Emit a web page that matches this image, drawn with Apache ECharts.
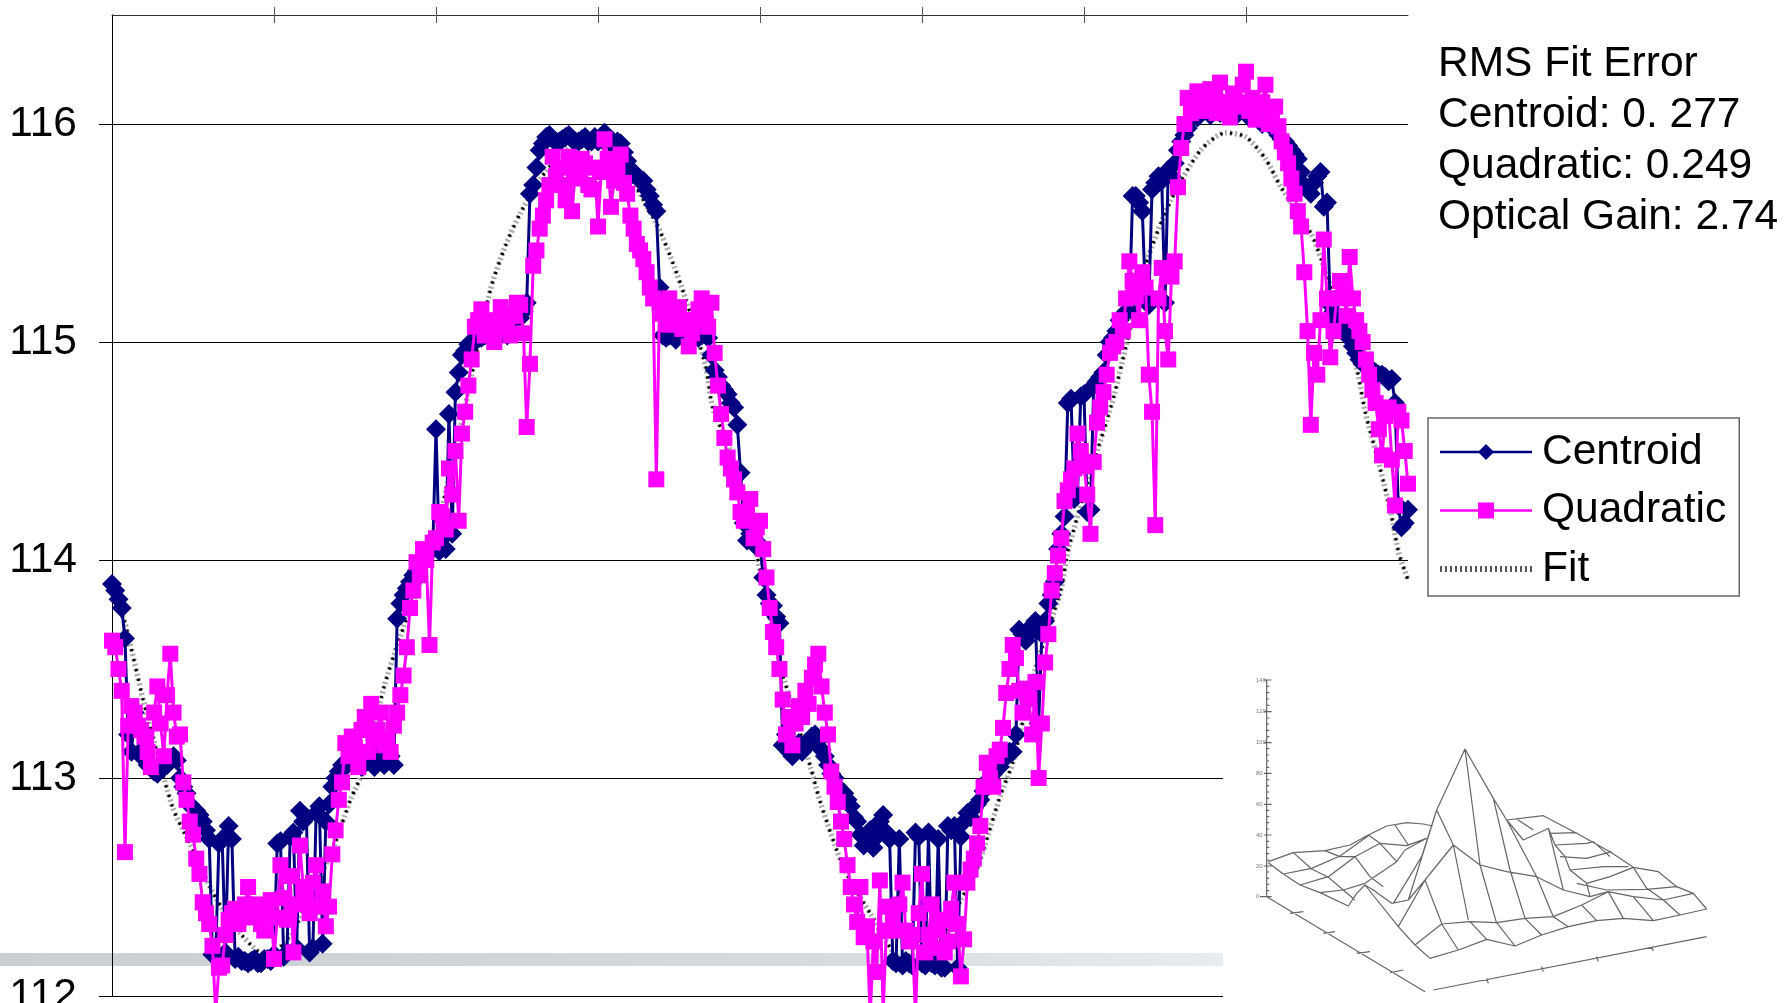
<!DOCTYPE html>
<html><head><meta charset="utf-8">
<style>html,body{margin:0;padding:0;background:#fff;overflow:hidden}#c{width:1785px;height:1003px}</style>
<script src="https://cdn.jsdelivr.net/npm/echarts@6/dist/echarts.min.js"></script>
</head><body><div id="c"></div>
<script>
const yTicks=[112,113,114,115,116];
const xTicks=[50,100,150,200,250,300,350];
const infoLines=["RMS Fit Error","Centroid: 0. 277","Quadratic: 0.249","Optical Gain: 2.74"];
const centroidEven=[113.89,113.82,113.64,113.12,113.25,113.14,113.05,113.02,113.05,113.09,113.08,112.96,112.88,112.85,112.80,112.72,112.18,112.72,112.78,112.17,
112.16,112.15,112.17,112.15,112.17,112.19,112.71,112.20,112.75,112.85,112.82,112.22,112.87,112.80,112.96,113.03,113.05,113.08,113.07,113.10,
113.09,113.14,113.06,113.10,113.73,113.84,113.90,113.95,114.02,114.04,114.60,114.10,114.67,114.77,114.94,114.99,115.00,115.02,115.05,115.04,
115.06,115.03,115.08,115.11,115.18,115.72,115.88,115.94,115.93,115.92,115.94,115.93,115.92,115.94,115.92,115.92,115.96,115.93,115.92,115.87,
115.79,115.76,115.74,115.67,115.60,115.03,115.03,115.01,115.06,115.08,115.04,115.03,115.02,114.87,114.80,114.76,114.70,114.40,114.09,114.08,
114.07,113.84,113.79,113.71,113.20,113.10,113.16,113.14,113.19,113.17,113.10,113.02,112.96,112.93,112.87,112.80,112.69,112.76,112.73,112.83,
112.72,112.15,112.14,112.15,112.75,112.15,112.75,112.14,112.13,112.78,112.78,112.73,112.84,112.86,112.90,112.98,113.02,113.05,113.10,113.12,
113.68,113.63,113.70,113.25,113.72,113.84,114.05,114.20,114.74,114.30,114.76,114.23,114.82,114.86,115.00,115.05,115.12,115.15,115.67,115.60,
115.17,115.73,115.74,115.79,115.82,115.92,115.98,116.05,116.05,116.07,116.08,116.05,116.07,116.05,116.06,116.05,116.04,116.02,116.03,116.00,
115.95,115.92,115.88,115.84,115.72,115.68,115.76,115.62,115.17,115.10,115.05,115.02,114.95,114.90,114.88,114.86,114.85,114.82,114.72,114.15,114.23];
const centroidOdd=[113.86,113.78,113.20,113.30,113.10,113.06,113.03,113.04,113.06,113.10,113.00,112.93,112.86,112.83,112.76,112.19,112.70,112.20,112.72,112.18,
112.16,112.16,112.15,112.17,112.16,112.70,112.18,112.73,112.22,112.80,112.20,112.84,112.24,112.88,113.00,113.06,113.07,113.10,113.05,113.12,
113.05,113.08,113.10,113.06,113.80,113.87,113.93,113.98,114.03,114.05,114.04,114.05,114.12,114.86,114.96,115.00,115.04,115.03,115.06,115.02,
115.05,115.04,115.10,115.14,115.68,115.80,115.91,115.95,115.92,115.93,115.95,115.92,115.93,115.92,115.94,115.93,115.94,115.90,115.91,115.83,
115.78,115.74,115.70,115.63,115.25,115.02,115.04,115.05,115.03,115.07,115.02,115.04,114.94,114.84,114.78,114.72,114.62,114.17,114.12,114.06,
113.92,113.80,113.74,113.15,113.12,113.14,113.12,113.17,113.20,113.13,113.06,113.00,112.94,112.90,112.82,112.74,112.72,112.68,112.80,112.75,
112.16,112.72,112.16,112.14,112.73,112.14,112.15,112.72,112.13,112.76,112.13,112.80,112.82,112.88,112.94,113.00,113.04,113.08,113.12,113.20,
113.66,113.66,113.72,113.66,113.80,113.90,114.12,114.72,114.28,114.75,114.22,114.80,114.84,114.94,115.02,115.10,115.14,115.67,115.64,115.20,
115.70,115.76,115.18,115.76,115.88,115.95,116.02,116.03,116.06,116.04,116.06,116.08,116.05,116.04,116.07,116.03,116.05,116.00,116.02,115.97,
115.93,115.90,115.86,115.78,115.70,115.73,115.78,115.64,115.14,115.08,115.03,114.98,114.92,114.90,114.87,114.85,114.84,114.83,114.25,114.17];
const quadraticEven=[113.63,113.50,112.66,113.33,113.24,113.19,113.05,113.42,113.10,113.57,113.19,112.98,112.80,112.63,112.43,112.33,111.92,112.14,112.35,112.40,
112.37,112.50,112.40,112.33,112.38,112.17,112.60,112.35,112.20,112.69,112.45,112.52,112.41,112.32,112.65,112.90,113.16,113.19,113.05,113.28,
113.34,113.22,113.15,113.12,113.30,113.47,113.78,113.99,114.05,113.61,114.10,114.20,114.42,114.50,114.58,114.80,115.07,115.15,115.05,115.00,
115.16,115.08,115.12,115.17,114.61,115.35,115.52,115.65,115.85,115.80,115.65,115.60,115.75,115.82,115.70,115.53,115.93,115.62,115.80,115.73,
115.58,115.45,115.38,115.25,114.37,115.13,115.20,115.08,115.06,114.98,115.10,115.20,115.07,114.95,114.67,114.47,114.37,114.22,114.22,114.10,
114.18,113.92,113.67,113.50,113.20,113.15,113.33,113.40,113.46,113.57,113.30,113.03,112.89,112.72,112.50,112.34,112.27,111.90,112.11,111.92,
112.41,112.30,112.52,112.25,111.90,112.56,112.28,112.22,112.35,112.25,112.52,112.09,112.52,112.63,112.78,113.07,112.96,113.13,113.39,113.61,
113.40,113.41,113.20,113.00,113.53,113.86,114.02,114.27,114.37,114.58,114.43,114.12,114.63,114.77,114.95,115.00,115.05,115.37,115.21,115.32,
114.85,114.16,115.34,114.92,115.37,115.89,116.12,116.08,116.13,116.10,116.12,116.19,116.10,116.14,116.10,116.24,116.12,116.08,116.18,116.05,
115.99,115.87,115.75,115.60,115.32,114.62,114.85,115.47,114.93,115.20,115.24,115.39,115.10,115.00,114.85,114.72,114.48,114.70,114.25,114.64,114.35];
const quadraticOdd=[113.60,113.40,113.24,113.30,113.22,113.12,113.30,113.25,113.38,113.30,113.20,112.90,112.74,112.56,112.38,112.23,112.13,112.28,112.38,112.33,
112.42,112.36,112.42,112.30,112.44,112.36,112.45,112.55,112.42,112.50,112.38,112.60,112.48,112.41,112.76,112.98,113.10,113.14,113.22,113.12,
113.18,113.30,113.18,113.24,113.38,113.60,113.86,113.93,114.00,114.08,114.22,114.14,114.30,114.18,114.68,114.92,115.10,115.03,115.10,115.06,
115.12,115.03,115.18,115.04,114.90,115.42,115.58,115.72,115.76,115.72,115.85,115.78,115.84,115.72,115.80,115.78,115.84,115.74,115.86,115.68,
115.52,115.42,115.32,115.20,115.18,115.08,115.14,115.16,115.10,115.04,115.15,115.12,115.18,114.80,114.56,114.42,114.31,114.18,114.28,114.15,
114.05,113.78,113.60,113.36,113.28,113.25,113.28,113.34,113.52,113.42,113.20,112.96,112.80,112.60,112.42,112.50,112.32,112.25,112.53,112.30,
112.35,112.42,112.30,112.28,112.38,112.20,112.42,112.30,112.20,112.40,112.33,112.26,112.58,112.70,112.96,113.00,113.10,113.23,113.50,113.55,
113.30,113.36,113.44,113.25,113.66,113.94,114.10,114.32,114.42,114.50,114.30,114.45,114.70,114.85,114.98,115.10,115.20,115.28,115.10,115.25,
114.68,115.20,115.05,115.30,115.71,116.00,116.05,116.15,116.06,116.16,116.05,116.10,116.03,116.08,116.18,116.06,116.02,116.10,116.00,116.08,
115.92,115.82,115.68,115.53,115.05,114.95,115.10,115.20,115.05,115.28,115.12,115.20,115.05,114.92,114.78,114.60,114.66,114.46,114.68,114.50];
const fitX=[0,4,9.6,18.6,24,32,40,48,55,62.8,68.8,73.6,78,84,89,98.6,107.4,116.8,121.4,126,133.8,144.6,155.4,167.8,172.4,177,183.2,185.4,190.8,198.6,206.4,215.6,218.6,225.8,234,245,254,262,266.6,269.6,274.2,278,285,292.8,295.2,302,309.2,319,326.8,336,343.8,350,356,360.8,370,373.2,384,386.8,391.4,394.8,397.2,400];
const fitY=[113.85,113.71,113.36,112.87,112.70,112.45,112.28,112.18,112.28,112.50,112.70,112.90,113.05,113.42,113.65,114.05,114.60,115.24,115.44,115.59,115.78,115.92,115.85,115.55,115.39,115.20,114.89,114.70,114.50,114.05,113.51,113.05,112.89,112.59,112.38,112.15,112.22,112.44,112.57,112.70,112.92,113.07,113.50,113.86,114.05,114.40,114.75,115.35,115.65,115.88,115.96,115.94,115.84,115.71,115.50,115.38,114.89,114.68,114.42,114.21,114.03,113.91];
const surfaceLines=[
[[85,575],[160,548],[255,542],[330,525],[385,495],[440,468],[500,458],[550,462],[578,468]],
[[85,578],[130,612],[180,645],[240,668],[325,708],[350,670],[375,645],[400,660],[455,700],[505,690],[555,630],[640,525],[720,585],[800,605],[890,620],[970,660],[1050,680],[1105,665],[1180,680],[1270,690],[1360,670]],
[[130,612],[215,595],[300,558],[385,497]],
[[180,645],[265,620],[345,560],[420,520],[500,527],[560,505]],
[[240,668],[310,660],[375,640],[470,575],[495,540],[560,505]],
[[160,548],[215,597],[265,622],[310,660],[345,690]],
[[255,542],[300,560],[345,560],[390,620],[430,650]],
[[385,495],[420,520],[470,575]],
[[465,465],[505,525]],
[[375,645],[475,770],[525,825],[570,865]],
[[475,770],[555,630],[605,760]],
[[505,690],[590,420],[675,237],[760,385],[800,450],[850,510],[915,480],[925,475],[970,660]],
[[460,700],[545,560],[590,420],[640,525],[685,750]],
[[675,237],[720,585],[770,760]],
[[760,385],[810,600],[855,745]],
[[800,450],[890,620],[940,740]],
[[525,825],[605,762],[690,755],[770,758],[855,745],[940,740],[1025,705],[1105,665]],
[[570,865],[655,840],[740,808],[825,828],[905,795],[985,770],[1070,752],[1150,745],[1240,752],[1320,735],[1400,717]],
[[605,762],[655,840]],[[690,755],[740,808]],[[770,758],[825,828]],[[855,745],[905,795]],[[940,740],[985,770]],[[1025,705],[1070,752]],[[1105,665],[1150,745]],[[1180,680],[1240,752]],[[1270,690],[1320,735]],
[[800,450],[910,437],[1010,490],[1110,545],[1180,592],[1255,605],[1310,650],[1360,670],[1400,717]],
[[1180,592],[1220,655],[1270,690]],
[[1010,640],[1100,660],[1220,658],[1310,650]],
[[1040,640],[1110,620],[1180,592]],
[[990,600],[1090,590],[1165,590]],
[[960,560],[1040,565],[1115,545]],
[[945,525],[1040,520],[1060,515]],
[[930,490],[1010,488]],
[[830,447],[880,480]],
[[925,475],[945,525],[975,560],[990,600],[1040,640],[1050,680]],
[[1060,515],[1110,560]],
[[80,30],[80,680],[555,965]],
[[580,960],[1400,800]],
[[72,30],[95,30]],[[72,125],[95,125]],[[72,218],[95,218]],[[72,310],[95,310]],[[72,403],[95,403]],[[72,495],[95,495]],[[72,588],[95,588]],[[60,680],[95,680]],
[[80,49],[88,49]],[[80,68],[88,68]],[[80,87],[88,87]],[[80,106],[88,106]],[[80,144],[88,144]],[[80,162],[88,162]],[[80,181],[88,181]],[[80,200],[88,200]],
[[80,236],[88,236]],[[80,255],[88,255]],[[80,273],[88,273]],[[80,292],[88,292]],[[80,329],[88,329]],[[80,347],[88,347]],[[80,366],[88,366]],[[80,385],[88,385]],
[[80,421],[88,421]],[[80,440],[88,440]],[[80,458],[88,458]],[[80,477],[88,477]],[[80,514],[88,514]],[[80,532],[88,532]],[[80,551],[88,551]],[[80,570],[88,570]],
[[80,606],[88,606]],[[80,625],[88,625]],[[80,643],[88,643]],[[80,662],[88,662]],
[[150,730],[190,725]],[[250,790],[285,785]],[[350,850],[390,845]],[[450,908],[490,900]],
[[740,925],[745,940]],[[905,890],[910,905]],[[1070,860],[1075,875]],[[1235,830],[1240,843]]
];
const surfaceTicks=["140","120","100","80","60","40","20","0"];
const surfaceTickY=[30,125,218,310,403,495,588,680];

function merge(even,odd){const out=[];even.forEach((v,i)=>{out.push([2*i,v]);if(i<odd.length)out.push([2*i+1,odd[i]]);});return out;}
const surfaceData=[];
surfaceLines.forEach(l=>{l.forEach(p=>surfaceData.push(p));surfaceData.push([null,null]);});
const fitData=fitX.map((x,i)=>[x,fitY[i]]);

const chart=echarts.init(document.getElementById('c'),null,{renderer:'canvas'});
const font='"Liberation Sans",Arial,sans-serif';
chart.setOption({
 animation:false,backgroundColor:'#fff',
 grid:[{left:112,right:377,top:15,bottom:7,outerBoundsMode:'none'},{left:1240,top:670,width:500,height:333,outerBoundsMode:'none'}],
 xAxis:[
  {type:'value',gridIndex:0,position:'top',min:0,max:400,interval:50,z:1,splitLine:{show:false},axisLabel:{show:false},
   axisLine:{show:true,lineStyle:{color:'#333',width:1}},axisTick:{show:true,length:8,customValues:xTicks,lineStyle:{color:'#555',width:1}}},
  {type:'value',gridIndex:0,position:'top',min:0,max:400,interval:50,z:1,splitLine:{show:false},axisLabel:{show:false},
   axisLine:{show:false},axisTick:{show:true,inside:true,length:8,customValues:xTicks,lineStyle:{color:'#555',width:1}}},
  {type:'value',gridIndex:1,min:0,max:1500,show:false}
 ],
 yAxis:[
  {type:'value',gridIndex:0,min:112,max:116.5,interval:0.5,z:1,
   axisLine:{show:true,lineStyle:{color:'#000',width:1}},
   axisTick:{show:true,length:13,customValues:yTicks,lineStyle:{color:'#000',width:1}},
   axisLabel:{customValues:yTicks,margin:35,fontSize:42.5,fontFamily:font,color:'#000'},
   splitLine:{show:true,showMinLine:true,lineStyle:{color:'#000',width:1}}},
  {type:'value',gridIndex:0,position:'right',min:112,max:116.5,z:1,
   axisLine:{show:true,lineStyle:{color:'#000',width:1}},axisTick:{show:false},axisLabel:{show:false},splitLine:{show:false}},
  {type:'value',gridIndex:1,min:0,max:999,inverse:true,show:false}
 ],
 legend:{show:true,orient:'vertical',left:1428,top:418,
  data:[{name:'Centroid',lineStyle:{width:2.5}},{name:'Quadratic',lineStyle:{width:2.5}},
        {name:'Fit',itemStyle:{opacity:0},lineStyle:{width:6,type:[2,3],color:'#555'}}],
  backgroundColor:'#fff',borderColor:'#666',borderWidth:1.5,borderRadius:0,padding:[11,13,4,9],
  itemWidth:92,itemHeight:20,itemGap:12.5,z:6,
  textStyle:{fontSize:42.5,fontFamily:font,color:'#000',lineHeight:46,padding:[0,0,0,5]}},
 graphic:{elements:[
  {type:'rect',z:0,silent:true,shape:{x:0,y:953,width:1223,height:13},
   style:{fill:new echarts.graphic.LinearGradient(0,0,1,0,[{offset:0,color:'#c9cfd2'},{offset:0.65,color:'#d5dadc'},{offset:1,color:'#e9ecee'}])}},
  {type:'rect',z:1.5,silent:true,shape:{x:1223,y:621,width:562,height:382},style:{fill:'#fff'}},
  {type:'text',z:7,left:1438,top:39,style:{text:infoLines.join('\n'),font:'42.5px '+font,lineHeight:51,fill:'#000'}},
  ...surfaceTicks.map((t,i)=>({type:'text',z:7,silent:true,x:1240+16,y:670+surfaceTickY[i]/3-3,style:{text:t,font:'6px '+font,fill:'#777'}}))
 ]},
 series:[
  {name:'Fit',type:'line',xAxisIndex:0,yAxisIndex:0,z:2,clip:false,smooth:0.25,symbol:'none',data:fitData,
   lineStyle:{color:'#aaa',width:5.5,type:[2,3]},itemStyle:{color:'#555'}},
  {name:'Fit dots',type:'line',xAxisIndex:0,yAxisIndex:0,z:2,clip:false,smooth:0.25,symbol:'none',silent:true,data:fitData,
   lineStyle:{color:'#000',width:3,type:[2.5,7.5]}},
  {name:'Centroid',type:'line',xAxisIndex:0,yAxisIndex:0,z:3,clip:false,symbol:'diamond',symbolSize:20,showAllSymbol:true,
   data:merge(centroidEven,centroidOdd),lineStyle:{color:'#000080',width:3},itemStyle:{color:'#000080'}},
  {name:'Quadratic',type:'line',xAxisIndex:0,yAxisIndex:0,z:4,clip:false,symbol:'rect',symbolSize:16,showAllSymbol:true,
   data:merge(quadraticEven,quadraticOdd),lineStyle:{color:'#ff00ff',width:3},itemStyle:{color:'#ff00ff'}},
  {name:'Surface',type:'line',xAxisIndex:2,yAxisIndex:2,z:5,symbol:'none',silent:true,connectNulls:false,
   data:surfaceData,lineStyle:{color:'#666',width:1.2}}
 ]
});
</script></body></html>
